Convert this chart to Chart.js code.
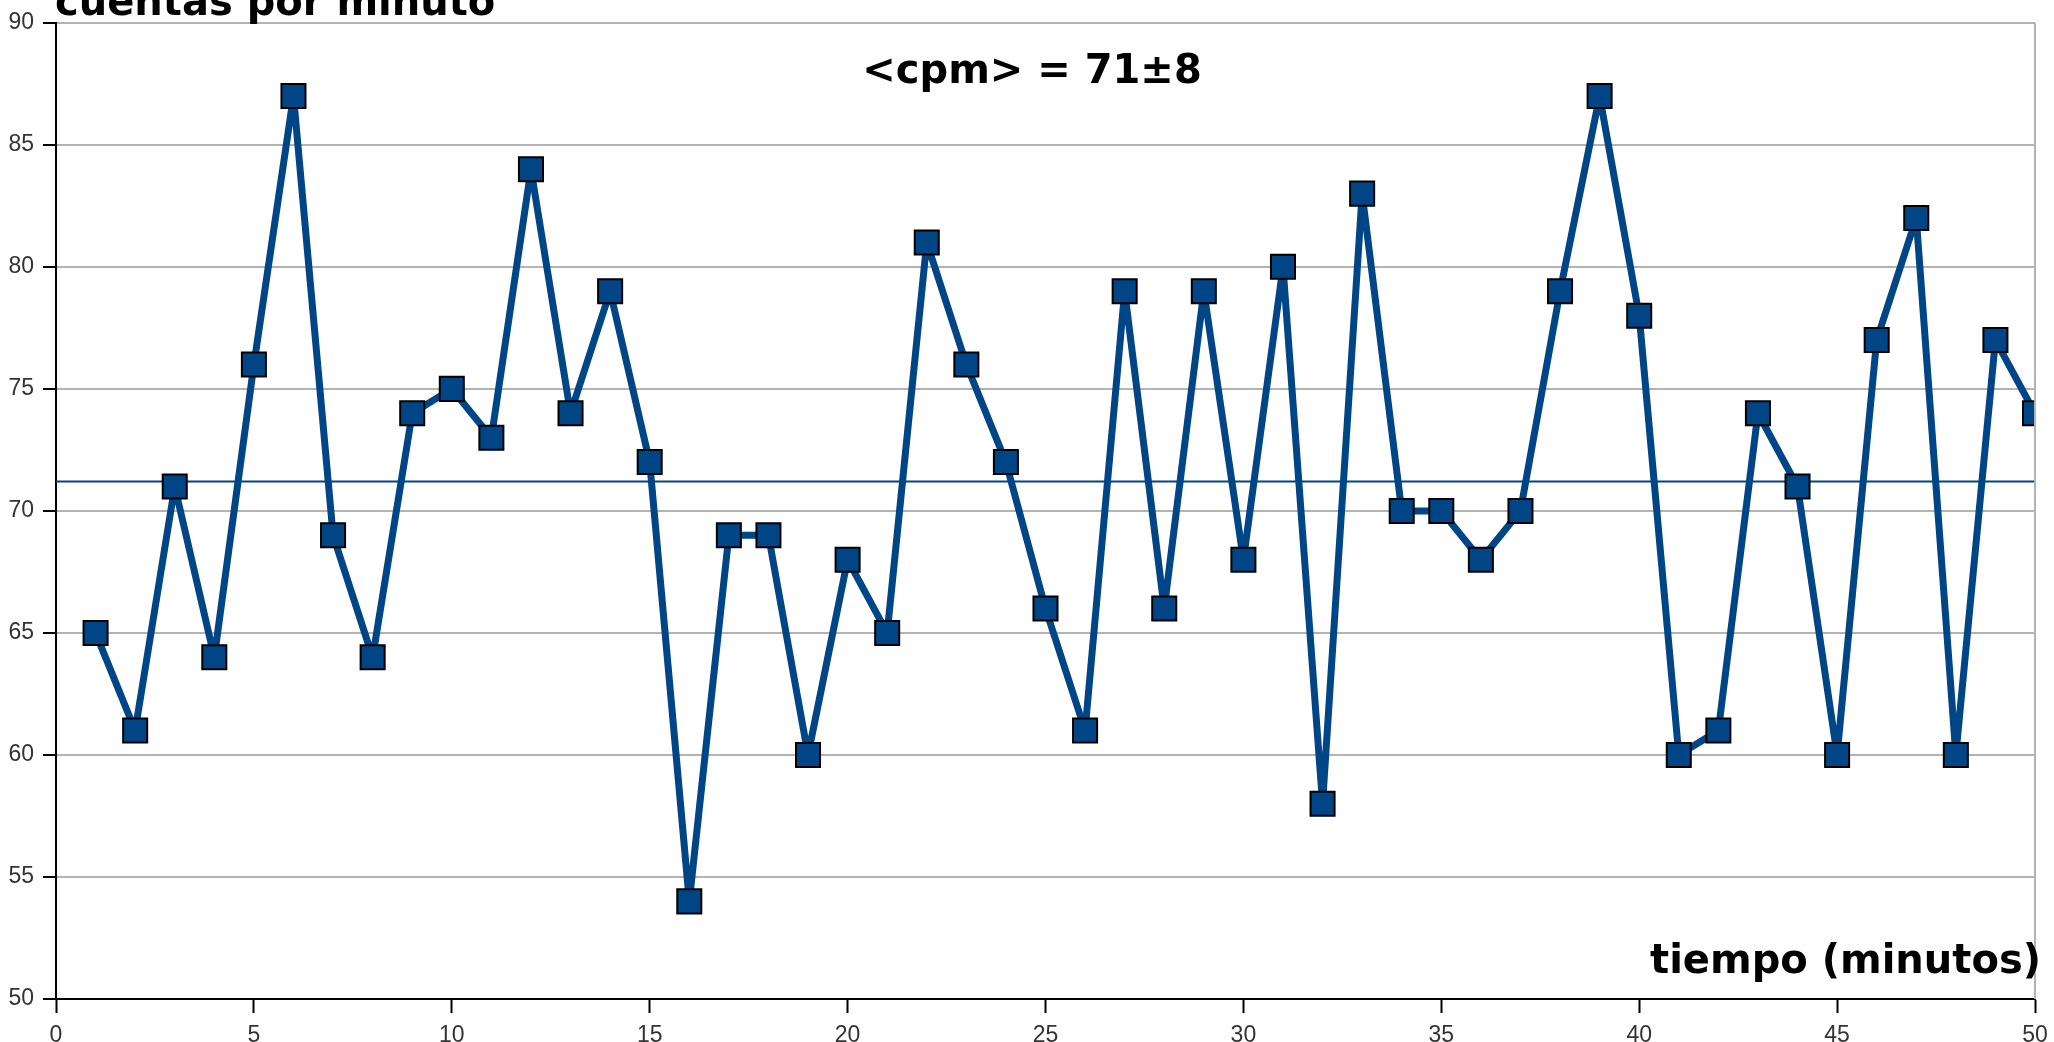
<!DOCTYPE html>
<html>
<head>
<meta charset="utf-8">
<script src="https://cdn.jsdelivr.net/npm/chart.js@4/dist/chart.umd.min.js"></script>
<style>
html,body{margin:0;padding:0;background:#fff;}
#wrap{width:2054px;height:1042px;position:relative;}
</style>
</head>
<body>
<div id="wrap"><canvas id="c" width="2054" height="1042"></canvas></div>
<script>
// ---- data ----
const minutes = [1,2,3,4,5,6,7,8,9,10,11,12,13,14,15,16,17,18,19,20,21,22,23,24,25,26,27,28,29,30,31,32,33,34,35,36,37,38,39,40,41,42,43,44,45,46,47,48,49,50];
const counts  = [65,61,71,64,76,87,69,64,74,75,73,84,74,79,72,54,69,69,60,68,65,81,76,72,66,61,79,66,79,68,80,58,83,70,70,68,70,79,87,78,60,61,74,71,60,77,82,60,77,74];
const meanValue = 71.2;
const meanSpan = [0, 50];
const yTicks = [50,55,60,65,70,75,80,85,90];
const xTicks = [0,5,10,15,20,25,30,35,40,45,50];
const titleText = "cuentas por minuto";
const xLabelText = "tiempo (minutos)";
const noteText = "<cpm> = 71±8";

const seriesPoints = minutes.map((m, i) => ({x: m, y: counts[i]}));
const meanPoints = meanSpan.map(x => ({x: x, y: meanValue}));

const BLUE = '#004586';

const textPlugin = {
  id: 'texts',
  afterDraw(chart) {
    const ctx = chart.ctx;
    const a = chart.chartArea;
    ctx.save();
    // right border
    ctx.strokeStyle = '#b3b3b3';
    ctx.lineWidth = 2;
    ctx.beginPath();
    ctx.moveTo(a.right, a.top);
    ctx.lineTo(a.right, a.bottom);
    ctx.stroke();
    ctx.fillStyle = '#000';
    ctx.textBaseline = 'alphabetic';
    ctx.font = 'bold 40px "DejaVu Sans"';
    ctx.textAlign = 'left';
    ctx.fillText(titleText, a.left - 1, 15);
    ctx.textAlign = 'right';
    ctx.fillText(xLabelText, a.right + 6, 973);
    ctx.font = 'bold 40px "DejaVu Sans"';
    ctx.textAlign = 'center';
    ctx.fillText(noteText, 1032, 83);
    ctx.restore();
  }
};

new Chart(document.getElementById('c'), {
  type: 'line',
  data: {
    datasets: [
      {
        data: seriesPoints,
        borderColor: BLUE,
        backgroundColor: BLUE,
        borderWidth: 7,
        borderJoinStyle: 'round',
        tension: 0,
        pointStyle: 'rect',
        pointRadius: 17,
        pointHoverRadius: 17,
        pointBackgroundColor: BLUE,
        pointBorderColor: '#000',
        pointBorderWidth: 2,
        order: 1
      },
      {
        data: meanPoints,
        borderColor: BLUE,
        borderWidth: 2,
        pointRadius: 0,
        tension: 0,
        order: 2
      }
    ]
  },
  options: {
    responsive: false,
    animation: false,
    events: [],
    layout: { padding: { top: 22, right: 17, left: 0, bottom: 0 } },
    plugins: { legend: { display: false }, title: { display: false }, tooltip: { enabled: false } },
    scales: {
      x: {
        type: 'linear',
        min: 0, max: 50,
        afterBuildTicks(scale) { scale.ticks = xTicks.map(v => ({value: v})); },
        afterFit(scale) { scale.height = 43; scale.paddingLeft = 0; scale.paddingRight = 0; },
        grid: { drawOnChartArea: false, drawTicks: true, tickLength: 14, tickColor: '#000', tickWidth: 2 },
        border: { display: true, color: '#000', width: 2 },
        ticks: { padding: 9, color: '#333333', font: { family: '"Liberation Sans"', size: 23 }, maxRotation: 0, autoSkip: false }
      },
      y: {
        type: 'linear',
        min: 50, max: 90,
        afterBuildTicks(scale) { scale.ticks = yTicks.map(v => ({value: v})); },
        afterFit(scale) { scale.width = 56; },
        grid: { color: '#b3b3b3', lineWidth: 2, drawTicks: true, tickLength: 13, tickColor: '#000', tickWidth: 2 },
        border: { display: true, color: '#000', width: 2 },
        ticks: { padding: 9, color: '#333333', font: { family: '"Liberation Sans"', size: 23 }, autoSkip: false }
      }
    }
  },
  plugins: [textPlugin]
});
</script>
</body>
</html>
